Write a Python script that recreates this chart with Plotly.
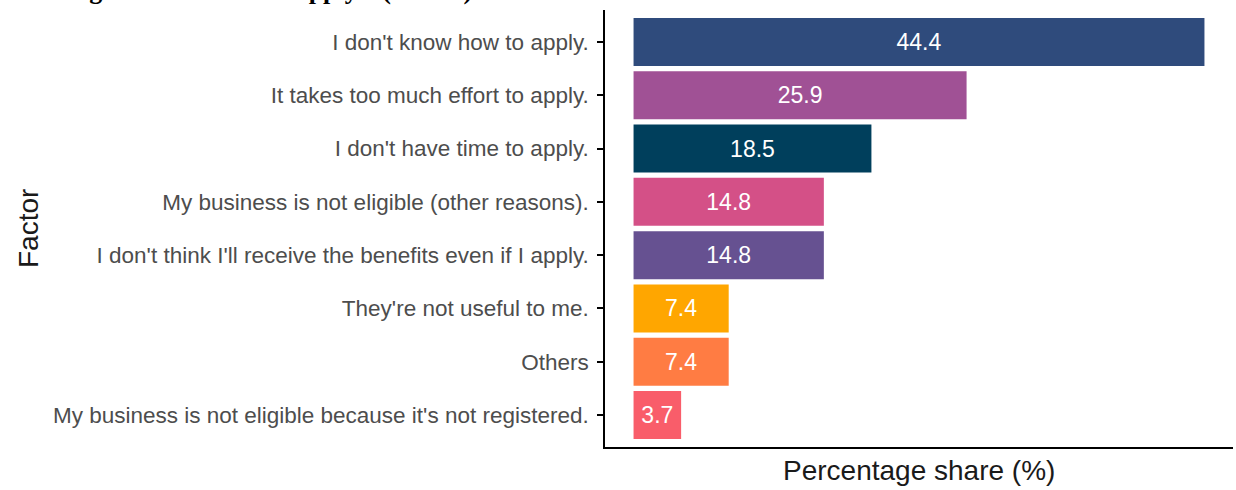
import plotly.graph_objects as go

# Survey factors, listed top to bottom as shown on the chart
factors = [
    "I don't know how to apply.",
    "It takes too much effort to apply.",
    "I don't have time to apply.",
    "My business is not eligible (other reasons).",
    "I don't think I'll receive the benefits even if I apply.",
    "They're not useful to me.",
    "Others",
    "My business is not eligible because it's not registered.",
]
shares = [44.4, 25.9, 18.5, 14.8, 14.8, 7.4, 7.4, 3.7]
bar_colors = ["#2f4b7c", "#a05195", "#003f5c", "#d45087",
              "#665191", "#ffa600", "#ff7c43", "#f95d6a"]

W, H = 1236, 490
L, R, T, B = 605, 3, 10, 43
PW = W - L - R
PH = H - T - B

fig = go.Figure(
    go.Bar(
        x=shares,
        y=factors,
        orientation="h",
        width=0.9,
        marker=dict(color=bar_colors, line=dict(width=0)),
        text=shares,
        texttemplate="%{x:.1f}",
        textposition="inside",
        insidetextanchor="middle",
        constraintext="none",
        textangle=0,
        textfont=dict(family="Liberation Sans, Arial, sans-serif", size=23, color="white"),
        hoverinfo="skip",
    )
)

fig.update_layout(
    width=W,
    height=H,
    margin=dict(l=L, r=R, t=T, b=B, autoexpand=False),
    paper_bgcolor="white",
    plot_bgcolor="white",
    showlegend=False,
    font=dict(family="Liberation Sans, Arial, sans-serif"),
)

xmax = max(shares)
pad = 0.05 * xmax
fig.update_xaxes(
    range=[-pad, xmax + pad],
    showgrid=False,
    zeroline=False,
    showline=True,
    linecolor="black",
    linewidth=1.5,
    ticks="",
    showticklabels=False,
)
fig.update_yaxes(
    categoryorder="array",
    categoryarray=factors[::-1],
    range=[-0.6, len(factors) - 0.4],
    showgrid=False,
    zeroline=False,
    showline=True,
    linecolor="black",
    linewidth=1.5,
    ticks="outside",
    ticklen=6,
    tickwidth=1.5,
    tickcolor="black",
    ticklabelstandoff=4,
    tickfont=dict(size=22.5, color="#4d4d4d"),
)

# Axis titles
fig.add_annotation(
    text="Factor",
    xref="paper", yref="paper",
    x=(28 - L) / PW, y=(H - B - 229) / PH,
    xanchor="center", yanchor="middle",
    textangle=-90,
    showarrow=False,
    font=dict(size=28, color="#1a1a1a"),
)
fig.add_annotation(
    text="Percentage share (%)",
    xref="paper", yref="paper",
    x=(919 - L) / PW, y=-(470 - (H - B)) / PH,
    xanchor="center", yanchor="middle",
    showarrow=False,
    font=dict(size=28, color="#1a1a1a"),
)

# Caption line running above the figure
fig.add_annotation(
    text="<b>ding not selected that apply.   (N = 27)</b>",
    xref="paper", yref="paper",
    x=(474 - L) / PW, y=(PH + 3.5) / PH,
    xanchor="right", yanchor="bottom",
    showarrow=False,
    font=dict(family="Liberation Serif, Times New Roman, serif", size=26, color="black"),
)

fig.write_html("out.html")
